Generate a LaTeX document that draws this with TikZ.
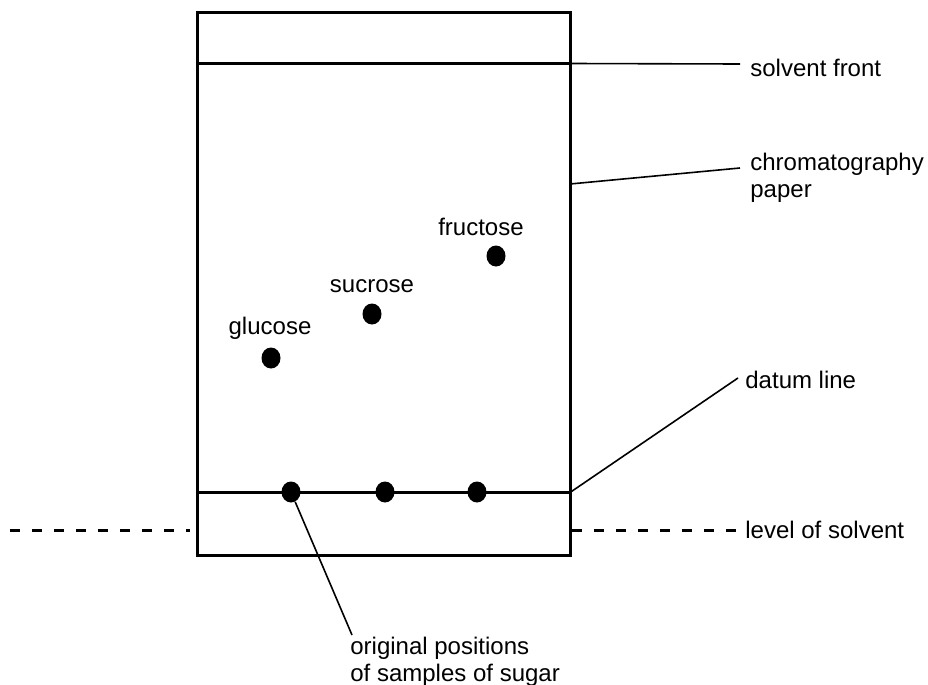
\documentclass[tikz,border=0pt]{standalone}
\usepackage{fontspec}
\setmainfont{Liberation Sans}
\usetikzlibrary{calc,shapes.geometric}

\begin{document}
\begin{tikzpicture}[x=0.5pt, y=-0.5pt,
    spotnode/.style={ellipse, fill=black, inner sep=0pt, minimum width=9.5pt, minimum height=10.5pt},
    labelnode/.style={inner sep=0pt, font=\fontsize{12}{13.5}\selectfont},
    leader/.style={line width=0.8pt}]
    \useasboundingbox (0,0) rectangle (928,685);
            % paper
            \draw[line width=1.5pt] (197,12) rectangle (570,555);
            \coordinate (SFl) at (197,63.5);
            \coordinate (SFr) at (570,63.5);
            \coordinate (DLl) at (197,492.5);
            \coordinate (DLr) at (570,492.5);
            \coordinate (CPe) at (570,184);
            \draw[line width=1.6pt] (SFl) -- (SFr);
            \draw[line width=1.6pt] (DLl) -- (DLr);

            % spots after running
            \node[spotnode] (G) at (271,358) {};
            \node[spotnode] (S) at (372,314) {};
            \node[spotnode] (F) at (496,256) {};
            \node[labelnode] (Gl) at (270,328) {glucose};
            \node[labelnode] (Sl) at (372,286) {sucrose};
            \node[labelnode] (Fl) at (481,227) {fructose};

            % spots on datum line
            \node[spotnode] (G0) at (291,492) {};
            \node[spotnode] (S0) at (385,492) {};
            \node[spotnode] (F0) at (477,492) {};

            % labels on the right
            \node[labelnode, anchor=west] (SF) at (750,68) {solvent front};
            \node[labelnode, anchor=north west, align=left] (CP) at (750,153) {chromatography\\paper};
            \node[labelnode, anchor=west] (DL) at (745,380) {datum line};
            \node[labelnode, anchor=west] (LS) at (745,530) {level of solvent};
            \node[labelnode, anchor=north west, align=left] (OP) at (350,637) {original positions\\of samples of sugar};
            \coordinate (SFx) at (740,64);
            \coordinate (CPx) at (740,168);
            \coordinate (OPx) at (352,635);

            \draw[leader] (SFr) -- (SFx);
            \draw[leader] (CPe) -- (CPx);
            \draw[leader] (DLr) -- ($(DL.west)+(-7,-2)$);
            \draw[leader] (G0) -- (OPx);

            % level of solvent
            \tikzset{solvent/.style={line width=1.5pt, dash pattern=on 5pt off 6pt}}
            \coordinate (LSa) at (10,530);
            \coordinate (LSb) at (190,530);
            \coordinate (LSc) at (572,530);
            \draw[solvent] (LSa) -- (LSb);
            \draw[solvent] (LSc) -- ($(LS.west)+(-3,0)$);

        \end{tikzpicture}
\end{document}
